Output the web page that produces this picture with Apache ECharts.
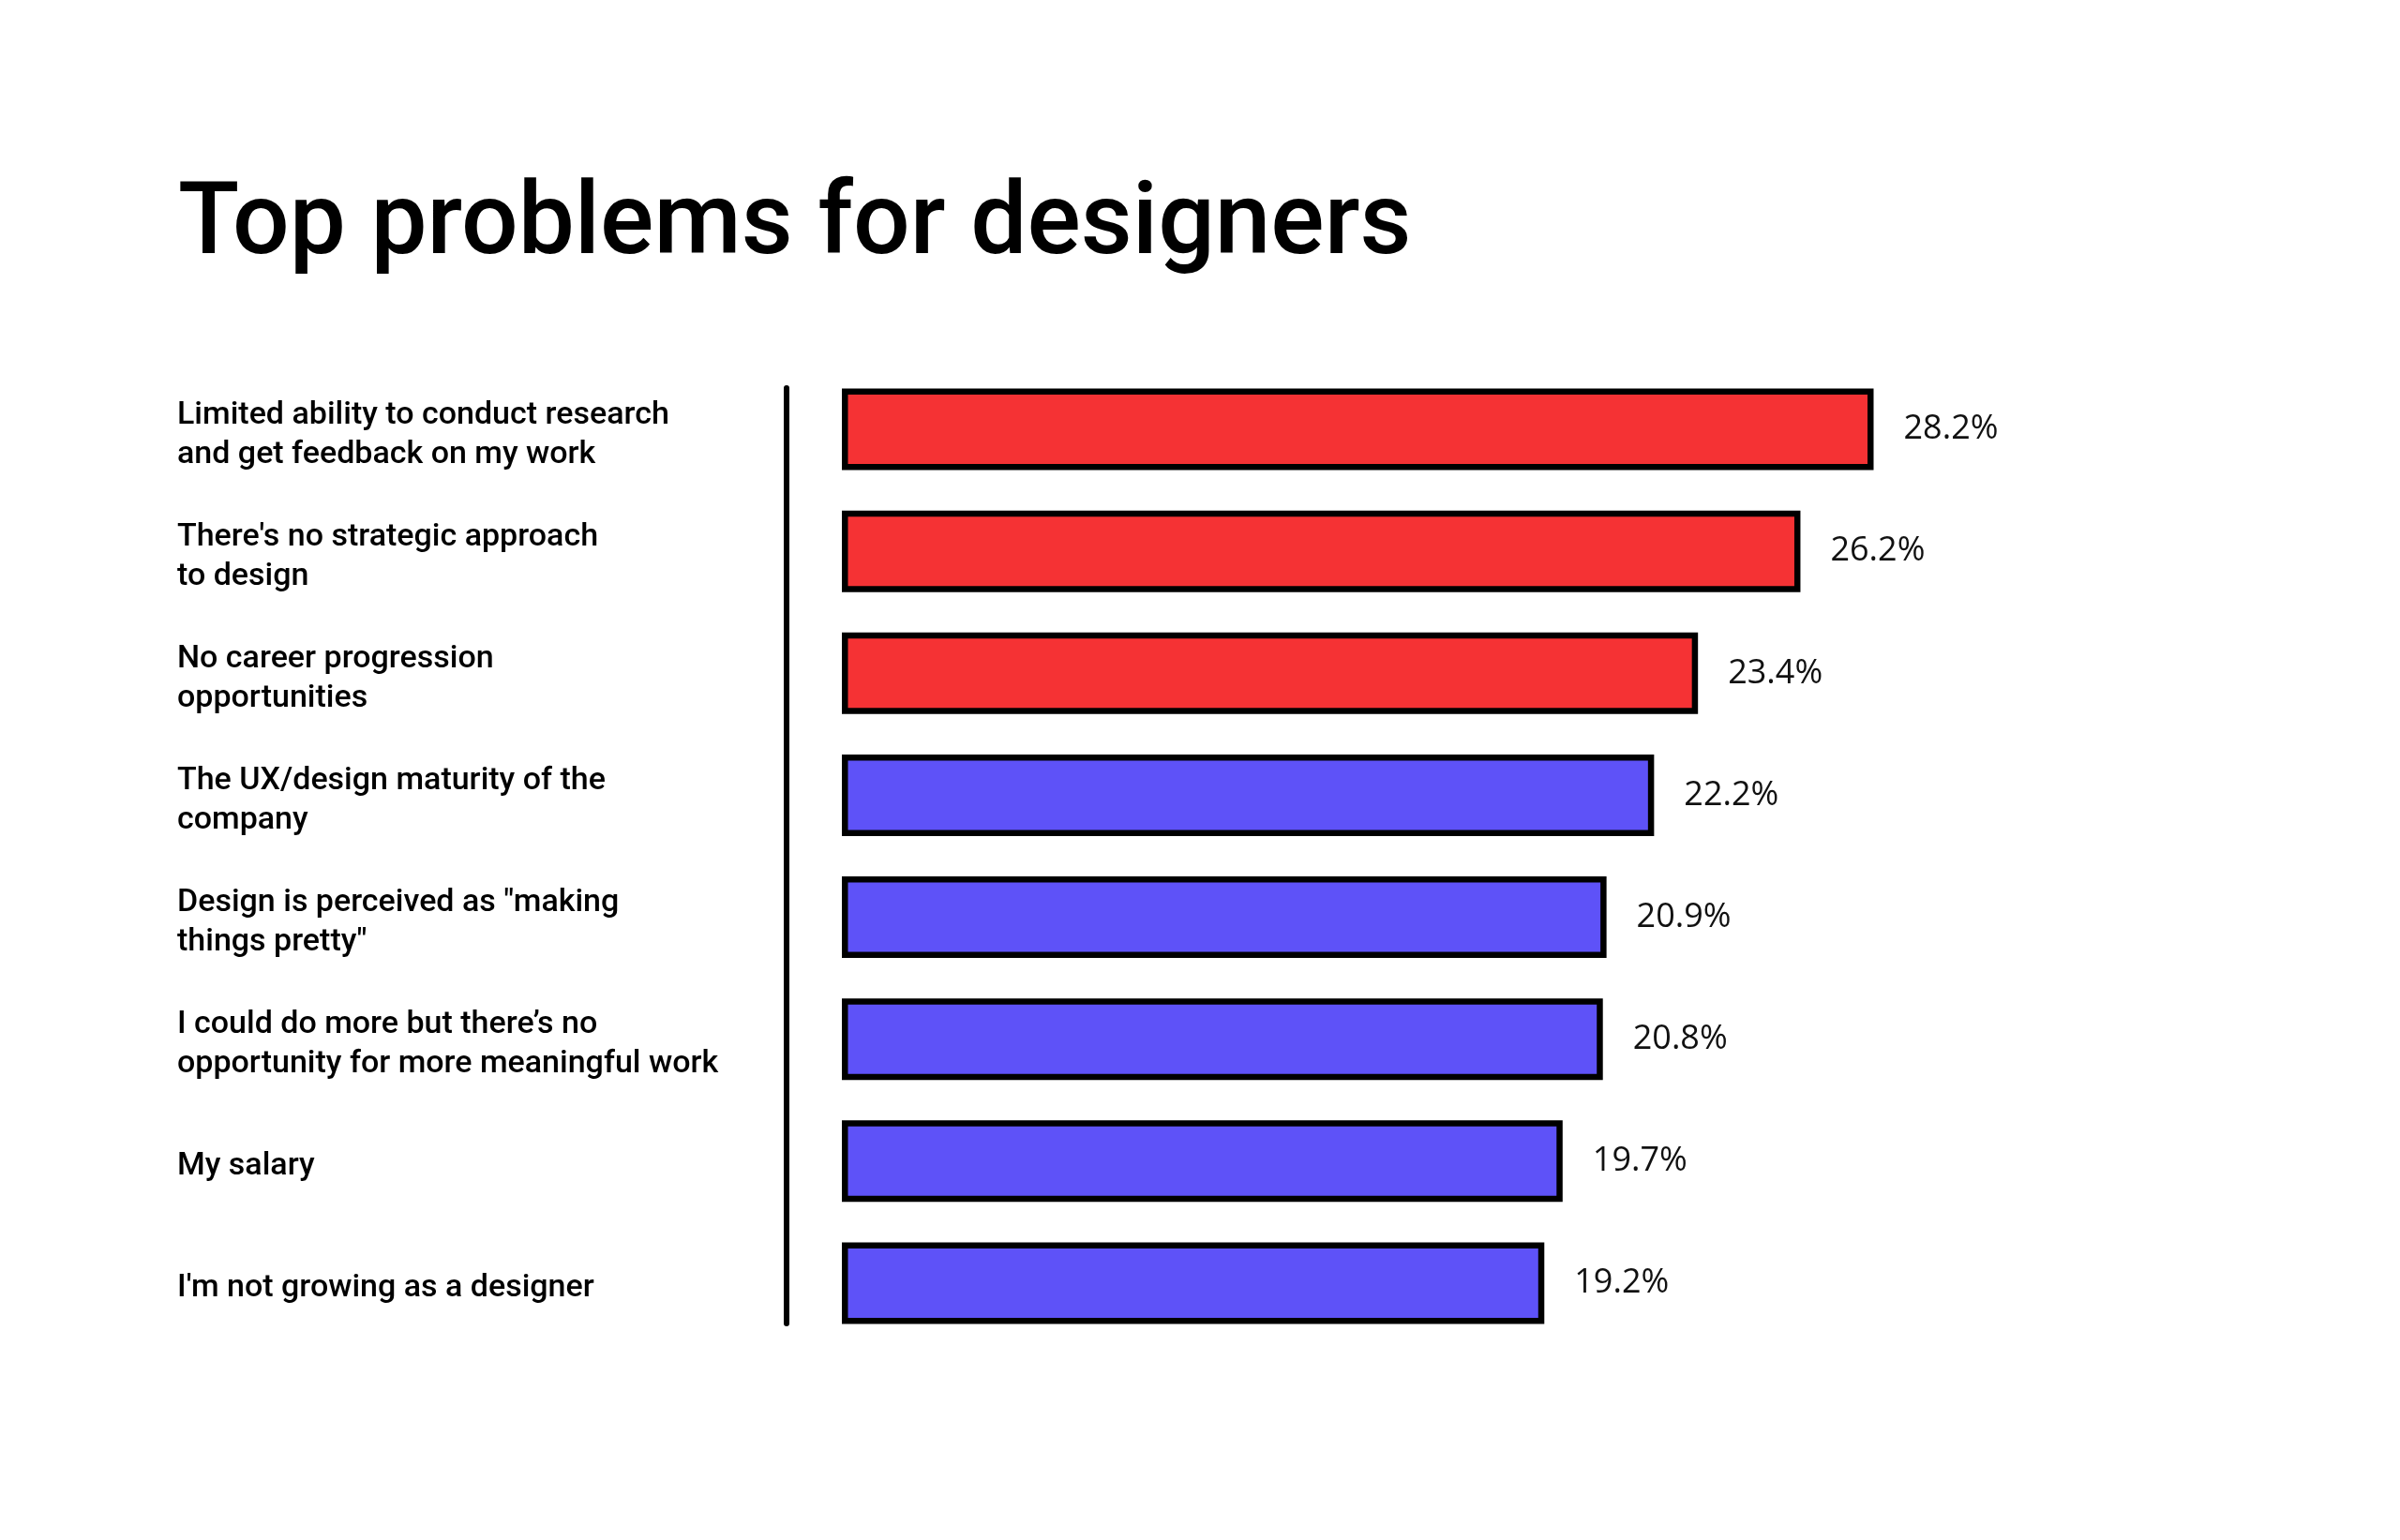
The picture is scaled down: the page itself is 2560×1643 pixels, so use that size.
<!DOCTYPE html>
<html>
<head>
<meta charset="utf-8">
<style>
  html, body { margin: 0; padding: 0; background: #ffffff; }
  #chart { width: 2560px; height: 1643px; }
</style>
<script src="https://cdn.jsdelivr.net/npm/echarts@6/dist/echarts.min.js"></script>
</head>
<body>
<div id="chart"></div>
<script>
const titleText = 'Top problems for designers';
const categories = [
  'Limited ability to conduct research\nand get feedback on my work',
  "There's no strategic approach\nto design",
  'No career progression\nopportunities',
  'The UX/design maturity of the\ncompany',
  'Design is perceived as "making\nthings pretty"',
  'I could do more but there\u2019s no\nopportunity for more meaningful work',
  'My salary',
  "I'm not growing as a designer"
];
const values = [28.2, 26.2, 23.4, 22.2, 20.9, 20.8, 19.7, 19.2];
const highlightedCount = 3;

const RED = '#F53234';
const BLUE = '#5E52F8';

const chart = echarts.init(document.getElementById('chart'), null, { renderer: 'canvas' });
chart.setOption({
  backgroundColor: '#ffffff',
  animation: false,
  title: {
    text: titleText,
    left: 185,
    top: 185,
    textStyle: {
      fontFamily: 'Roboto',
      fontWeight: 500,
      fontSize: 107,
      color: '#000000'
    }
  },
  grid: [
    { left: 898, top: 393, width: 1561, height: 1041 },
    { left: 838.5, top: 414, width: 10, height: 998 }
  ],
  xAxis: [
    { type: 'value', gridIndex: 0, min: 0, max: 40, show: false },
    { type: 'value', gridIndex: 1, min: 0, max: 1, show: false }
  ],
  yAxis: [
    {
      type: 'category',
      gridIndex: 0,
      inverse: true,
      data: categories,
      axisLine: { show: false },
      axisTick: { show: false },
      splitLine: { show: false },
      axisLabel: {
        align: 'left',
        margin: 709,
        fontFamily: 'Roboto',
        fontWeight: 500,
        fontSize: 34,
        color: '#000000',
        formatter: function (v) {
          return v.split('\n').map(function (l) { return '{a|' + l + '}'; }).join('\n');
        },
        rich: {
          a: {
            fontFamily: 'Roboto',
            fontWeight: 500,
            fontSize: 34,
            color: '#000000',
            lineHeight: 42,
            padding: [12, 0, 0, 0]
          }
        }
      }
    },
    {
      type: 'value',
      gridIndex: 1,
      min: 0,
      max: 1,
      axisLine: { show: true, onZero: false, lineStyle: { color: '#000000', width: 6 } },
      axisTick: { show: false },
      axisLabel: { show: false },
      splitLine: { show: false }
    }
  ],
  series: [
    {
      type: 'bar',
      xAxisIndex: 0,
      yAxisIndex: 0,
      data: values,
      barWidth: 87,
      itemStyle: {
        color: function (p) { return p.dataIndex < highlightedCount ? RED : BLUE; },
        borderColor: '#000000',
        borderWidth: 6.5
      },
      label: {
        show: true,
        position: 'right',
        distance: 32,
        formatter: function (p) { return p.value.toFixed(1) + '%'; },
        fontFamily: 'Open Sans',
        fontWeight: 400,
        fontSize: 36,
        color: '#111111'
      }
    }
  ]
});
</script>
</body>
</html>
